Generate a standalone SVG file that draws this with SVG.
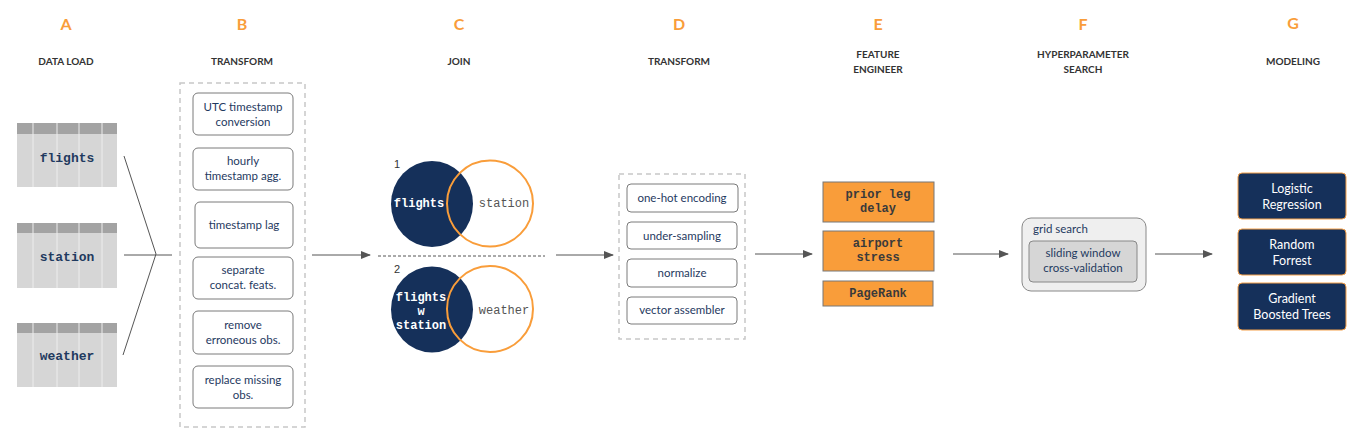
<svg xmlns="http://www.w3.org/2000/svg" width="1370" height="443" viewBox="0 0 1370 443">
<style>
.letter{font-family:Lato,"Liberation Sans",sans-serif;font-weight:bold;font-size:16px;fill:#F99D3A;text-anchor:middle}
.hdr{font-family:Lato,"Liberation Sans",sans-serif;font-weight:bold;font-size:10px;fill:#333;text-anchor:middle}
.tbl-h{fill:#A3A3A3}
.tbl-b{fill:#D6D6D6}
.col{stroke:#EDEDED;stroke-width:1}
.mono{font-family:"Liberation Mono","Courier New",monospace;font-weight:bold;text-anchor:middle}
.step{fill:#fff;stroke:#7a7a7a;stroke-width:1}
.dash{fill:none;stroke:#C8C8C8;stroke-width:1.5;stroke-dasharray:5,4}
.st{font-family:Lato,"Liberation Sans",sans-serif;font-size:11.5px;fill:#1F3A5F;text-anchor:middle}
.fe{fill:#F99D3A;stroke:#777;stroke-width:1}
.fet{font-family:"Liberation Mono","Courier New",monospace;font-weight:bold;font-size:12px;fill:#3a3a3a;text-anchor:middle}
.model{fill:#15305A;stroke:#F5A048;stroke-width:1}
.mt{font-family:Lato,"Liberation Sans",sans-serif;font-size:12.5px;fill:#fff;text-anchor:middle}
.conn{stroke:#555;stroke-width:1;fill:none}
.navy{fill:#15305A}
.oring{fill:none;stroke:#F99D3A;stroke-width:2}
</style>
<defs>
<marker id="arr" markerWidth="10" markerHeight="8" refX="9" refY="4" orient="auto" markerUnits="userSpaceOnUse">
<path d="M0,0 L10,4 L0,8 Z" fill="#555"/>
</marker>
</defs>

<g id="headers">
<text class="letter" x="66" y="30">A</text>
<text class="letter" x="242" y="30">B</text>
<text class="letter" x="459" y="30">C</text>
<text class="letter" x="679" y="30">D</text>
<text class="letter" x="878" y="30">E</text>
<text class="letter" x="1083" y="30">F</text>
<text class="letter" x="1293" y="29">G</text>
<text class="hdr" x="66" y="65">DATA LOAD</text>
<text class="hdr" x="242" y="65">TRANSFORM</text>
<text class="hdr" x="459" y="65">JOIN</text>
<text class="hdr" x="679" y="65">TRANSFORM</text>
<text class="hdr" x="878" y="58">FEATURE</text>
<text class="hdr" x="878" y="73">ENGINEER</text>
<text class="hdr" x="1083" y="58">HYPERPARAMETER</text>
<text class="hdr" x="1083" y="73">SEARCH</text>
<text class="hdr" x="1293" y="65">MODELING</text>
</g>

<g id="table-flights">
<rect class="tbl-b" x="17" y="123" width="100" height="64"/>
<rect class="tbl-h" x="17" y="123" width="100" height="11"/>
<path class="col" d="M33,123V187M57,123V187M79,123V187M102,123V187"/>
<text class="mono" x="67" y="162" font-size="13" fill="#1F3A5F">flights</text>
</g>
<g id="table-station">
<rect class="tbl-b" x="17" y="223" width="100" height="65"/>
<rect class="tbl-h" x="17" y="223" width="100" height="10"/>
<path class="col" d="M33,223V288M57,223V288M79,223V288M102,223V288"/>
<text class="mono" x="67" y="261" font-size="13" fill="#1F3A5F">station</text>
</g>
<g id="table-weather">
<rect class="tbl-b" x="17" y="323" width="100" height="64"/>
<rect class="tbl-h" x="17" y="323" width="100" height="10"/>
<path class="col" d="M33,323V387M57,323V387M79,323V387M102,323V387"/>
<text class="mono" x="67" y="360" font-size="13" fill="#1F3A5F">weather</text>
</g>

<g id="transform-b">
<rect class="dash" x="180" y="83" width="125" height="344"/>
<rect class="step" x="193" y="93" width="100" height="42" rx="5"/>
<text class="st" x="243" y="111">UTC timestamp</text>
<text class="st" x="243" y="126">conversion</text>
<rect class="step" x="193" y="148" width="100" height="42" rx="5"/>
<text class="st" x="243" y="165">hourly</text>
<text class="st" x="243" y="180">timestamp agg.</text>
<rect class="step" x="195" y="202" width="98" height="46" rx="5"/>
<text class="st" x="244" y="229">timestamp lag</text>
<rect class="step" x="193" y="257" width="100" height="42" rx="5"/>
<text class="st" x="243" y="274">separate</text>
<text class="st" x="243" y="289">concat. feats.</text>
<rect class="step" x="193" y="311" width="100" height="43" rx="5"/>
<text class="st" x="243" y="329">remove</text>
<text class="st" x="243" y="344">erroneous obs.</text>
<rect class="step" x="193" y="366" width="100" height="42" rx="5"/>
<text class="st" x="243" y="384">replace missing</text>
<text class="st" x="243" y="399">obs.</text>
</g>

<g id="join-c">
<text x="397" y="168" font-family="Liberation Sans,sans-serif" font-size="11" fill="#333" text-anchor="middle">1</text>
<circle cx="490" cy="203.5" r="43" fill="#fff"/>
<ellipse class="navy" cx="432" cy="204" rx="41" ry="43"/>
<circle class="oring" cx="490" cy="203.5" r="43"/>
<text class="mono" x="419" y="207" font-size="12" fill="#fff">flights</text>
<text x="504" y="207" font-family="Liberation Mono,monospace" font-size="12" fill="#555" text-anchor="middle">station</text>
<line x1="378" y1="256" x2="545" y2="256" stroke="#555" stroke-width="1" stroke-dasharray="3,2"/>
<text x="397" y="273" font-family="Liberation Sans,sans-serif" font-size="11" fill="#333" text-anchor="middle">2</text>
<circle cx="490" cy="309" r="43" fill="#fff"/>
<ellipse class="navy" cx="432" cy="309.5" rx="41" ry="43"/>
<circle class="oring" cx="490" cy="309" r="43"/>
<text class="mono" x="421" y="301" font-size="12" fill="#fff">flights</text>
<text class="mono" x="421" y="315" font-size="12" fill="#fff">w</text>
<text class="mono" x="421" y="329" font-size="12" fill="#fff">station</text>
<text x="504" y="314" font-family="Liberation Mono,monospace" font-size="12" fill="#555" text-anchor="middle">weather</text>
</g>

<g id="transform-d">
<rect class="dash" x="619" y="174" width="126" height="165"/>
<rect class="step" x="627" y="184" width="111" height="28" rx="4"/>
<text class="st" x="682" y="202">one-hot encoding</text>
<rect class="step" x="627" y="222" width="110" height="27" rx="4"/>
<text class="st" x="682" y="240">under-sampling</text>
<rect class="step" x="627" y="259" width="110" height="28" rx="4"/>
<text class="st" x="682" y="277">normalize</text>
<rect class="step" x="627" y="297" width="110" height="27" rx="4"/>
<text class="st" x="682" y="314">vector assembler</text>
</g>

<g id="feature-e">
<rect class="fe" x="823" y="182" width="111" height="40"/>
<text class="fet" x="878" y="198">prior leg</text>
<text class="fet" x="878" y="212">delay</text>
<rect class="fe" x="823" y="231" width="111" height="40"/>
<text class="fet" x="878" y="247">airport</text>
<text class="fet" x="878" y="261">stress</text>
<rect class="fe" x="823" y="281" width="110" height="25"/>
<text class="fet" x="878" y="297">PageRank</text>
</g>

<g id="hyper-f">
<rect x="1022" y="218" width="124" height="73" rx="9" fill="#EFEFEF" stroke="#888" stroke-width="1"/>
<text x="1033" y="233" font-family="Lato,Liberation Sans,sans-serif" font-size="11.5" fill="#1F3A5F">grid search</text>
<rect x="1029" y="241" width="108" height="41" rx="4" fill="#D6D6D6" stroke="#888" stroke-width="1"/>
<text class="st" x="1083" y="257">sliding window</text>
<text class="st" x="1083" y="272">cross-validation</text>
</g>

<g id="model-g">
<rect class="model" x="1238" y="173" width="108" height="46" rx="4"/>
<text class="mt" x="1292" y="193">Logistic</text>
<text class="mt" x="1292" y="209">Regression</text>
<rect class="model" x="1238" y="229" width="108" height="46" rx="4"/>
<text class="mt" x="1292" y="249">Random</text>
<text class="mt" x="1292" y="265">Forrest</text>
<rect class="model" x="1238" y="283" width="108" height="47" rx="4"/>
<text class="mt" x="1292" y="303">Gradient</text>
<text class="mt" x="1292" y="319">Boosted Trees</text>
</g>

<g id="connectors">
<path class="conn" d="M124,156 L156,254"/>
<path class="conn" d="M123,355 L156,254"/>
<path class="conn" d="M124,255 L172,255"/>
<path class="conn" d="M312,255 L370,255" marker-end="url(#arr)"/>
<path class="conn" d="M556,255 L613,255" marker-end="url(#arr)"/>
<path class="conn" d="M755,254 L812,254" marker-end="url(#arr)"/>
<path class="conn" d="M953,254 L1008,254" marker-end="url(#arr)"/>
<path class="conn" d="M1155,254 L1212,254" marker-end="url(#arr)"/>
</g>
</svg>
